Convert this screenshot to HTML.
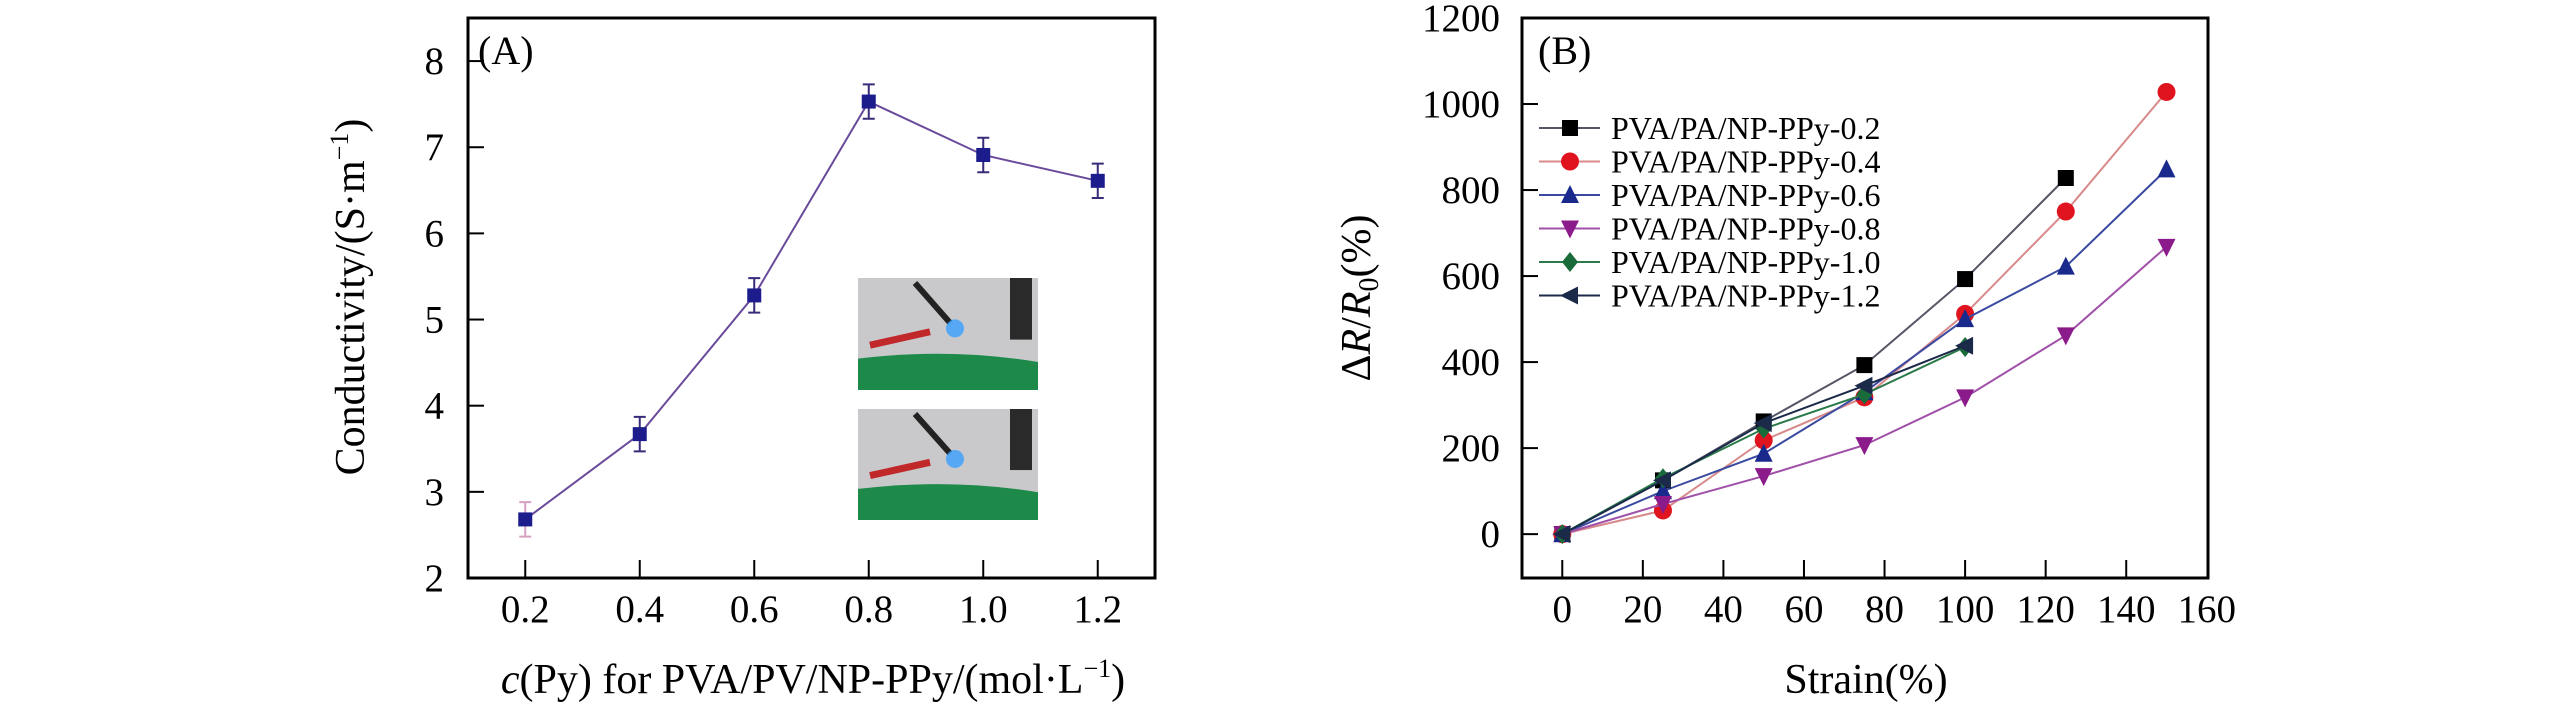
<!DOCTYPE html>
<html><head><meta charset="utf-8"><style>
html,body{margin:0;padding:0;background:#fff;}
svg{display:block;font-family:"Liberation Serif",serif;}
</style></head><body>
<svg id="root" width="2567" height="709" viewBox="0 0 2567 709" xmlns="http://www.w3.org/2000/svg">
<g id="pa"></g>
<g id="pb"></g>
</svg>
<script>
// Panel A data
const catsA = [0.2, 0.4, 0.6, 0.8, 1.0, 1.2];
const condA = [2.68, 3.67, 5.28, 7.53, 6.91, 6.61];
const errA = [0.2, 0.2, 0.2, 0.2, 0.2, 0.2];
const yTicksA = [2, 3, 4, 5, 6, 7, 8];
const xTickLabelsA = ["0.2", "0.4", "0.6", "0.8", "1.0", "1.2"];
// Panel B data
const strainB = [0, 25, 50, 75, 100, 125, 150];
const s02 = [0, 125, 262, 393, 593, 828];
const s04 = [0, 55, 218, 318, 512, 750, 1028];
const s06 = [0, 100, 187, 330, 500, 622, 848];
const s08 = [0, 70, 135, 207, 318, 462, 668];
const s10 = [0, 130, 245, 325, 435];
const s12 = [0, 125, 258, 345, 438];
const seriesNames = ["PVA/PA/NP-PPy-0.2","PVA/PA/NP-PPy-0.4","PVA/PA/NP-PPy-0.6","PVA/PA/NP-PPy-0.8","PVA/PA/NP-PPy-1.0","PVA/PA/NP-PPy-1.2"];
const xTicksB = [0, 20, 40, 60, 80, 100, 120, 140, 160];
const yTicksB = [0, 200, 400, 600, 800, 1000, 1200];

const NS = "http://www.w3.org/2000/svg";
function mk(parent, tag, attrs, txt){
  const e = document.createElementNS(NS, tag);
  for (const k in attrs) e.setAttribute(k, attrs[k]);
  if (txt !== undefined) e.textContent = txt;
  parent.appendChild(e);
  return e;
}

// ---------- Panel A ----------
const pa = document.getElementById('pa');
const AL=468, AR=1155, AT=18, AB=578;
const xA = v => AL + (v - 0.1) / 1.2 * (AR - AL);
const yA = v => AB - (v - 2) / 6.5 * (AB - AT);
let fr = mk(pa,'rect',{x:AL,y:AT,width:AR-AL,height:AB-AT,fill:'none',stroke:'#000','stroke-width':3});


yTicksA.forEach(t=>{
  const y = yA(t);
  if (t>2){ const l=mk(pa,'line',{x1:AL,x2:AL+16,y1:y,y2:y,stroke:'#000','stroke-width':2});
  
   }
  const tx = mk(pa,'text',{x:AL-24,y:y+13,'font-size':39,'text-anchor':'end'},String(t));
  
  
});
catsA.forEach((c,i)=>{
  const x = xA(c);
  const l=mk(pa,'line',{x1:x,x2:x,y1:AB,y2:AB-18,stroke:'#000','stroke-width':2});
  
  
  const tx=mk(pa,'text',{x:x,y:622,'font-size':39,'text-anchor':'middle'},xTickLabelsA[i]);
  
  
});
// inset photos
[[278,390],[409,520]].forEach((r,i)=>{
  const g = mk(pa,'g',{});
  
  
  const h=r[1]-r[0];
  mk(g,'rect',{x:858,y:r[0],width:180,height:h,fill:'#c9c9cc'});
  mk(g,'rect',{x:1010,y:r[0],width:22,height:h*0.55,fill:'#2a2a2a'});
  mk(g,'path',{d:`M858 ${r[0]+h*0.72} Q950 ${r[0]+h*0.62} 1038 ${r[0]+h*0.75} L1038 ${r[1]} L858 ${r[1]} Z`,fill:'#1e8a4a'});
  mk(g,'path',{d:`M870 ${r[0]+h*0.6} L930 ${r[0]+h*0.48}`,stroke:'#c0282a','stroke-width':7});
  mk(g,'path',{d:`M915 ${r[0]+5} L950 ${r[0]+h*0.4}`,stroke:'#222','stroke-width':6});
  mk(g,'circle',{cx:955,cy:r[0]+h*0.45,r:9,fill:'#3aa0ff',opacity:0.8});
});
// line
let d=''; catsA.forEach((c,i)=>{d+=(i?'L':'M')+xA(c)+' '+yA(condA[i]);});
const la=mk(pa,'path',{d:d,fill:'none',stroke:'#6a4a9a','stroke-width':2});


catsA.forEach((c,i)=>{
  const x=xA(c), y=yA(condA[i]);
  const eb=mk(pa,'path',{d:`M${x} ${yA(condA[i]-errA[i])}L${x} ${yA(condA[i]+errA[i])}M${x-6} ${yA(condA[i]-errA[i])}L${x+6} ${yA(condA[i]-errA[i])}M${x-6} ${yA(condA[i]+errA[i])}L${x+6} ${yA(condA[i]+errA[i])}`,stroke:i==0?'#d8a0c0':'#3a2a7a','stroke-width':2,fill:'none'});
  
  
  const m=mk(pa,'rect',{x:x-7,y:y-7,width:14,height:14,fill:'#1c1c8c'});
  
  
});
let t=mk(pa,'text',{x:478,y:64,'font-size':40},'(A)');


t=mk(pa,'text',{x:0,y:0,'font-size':42,'text-anchor':'middle',transform:'translate(364,297) rotate(-90)'});


t.innerHTML='Conductivity/(S·m<tspan font-size="26" dy="-16">−1</tspan><tspan dy="16">)</tspan>';
t=mk(pa,'text',{x:813,y:693,'font-size':42,'text-anchor':'middle'});


t.innerHTML='<tspan font-style="italic">c</tspan>(Py) for PVA/PV/NP-PPy/(mol·L<tspan font-size="26" dy="-16">−1</tspan><tspan dy="16">)</tspan>';

// ---------- Panel B ----------
const pb = document.getElementById('pb');
const BL=1522, BR=2208, BT=18, BB=578;
const xB = v => BL + (v + 10) / 170.3 * (BR - BL);
const yB = v => BB - (v + 102) / 1302 * (BB - BT);
fr=mk(pb,'rect',{x:BL,y:BT,width:BR-BL,height:BB-BT,fill:'none',stroke:'#000','stroke-width':3});


yTicksB.forEach(v=>{
  const y=yB(v);
  if (v<1200){const l=mk(pb,'line',{x1:BL,x2:BL+16,y1:y,y2:y,stroke:'#000','stroke-width':2});
  
  }
  const tx=mk(pb,'text',{x:1500,y:y+13,'font-size':39,'text-anchor':'end'},String(v));
  
  
});
xTicksB.forEach(v=>{
  const x=xB(v);
  if (v<160){const l=mk(pb,'line',{x1:x,x2:x,y1:BB,y2:BB-18,stroke:'#000','stroke-width':2});
  
  }
  const tx=mk(pb,'text',{x:x,y:622,'font-size':39,'text-anchor':'middle'},String(v));
  
  
});
const allS=[s02,s04,s06,s08,s10,s12];
const mcol=['#000','#e0141e','#1a2a8c','#8b1a8b','#1a6b3a','#1c2a4a'];
const lcol=['#556','#d88a8a','#3a4aa0','#a050a8','#2a7a4a','#1c2a4a'];
const shapes=['sq','ci','tu','td','di','tl'];
function marker(g,shape,x,y,c){
  const s=8;
  if(shape==='sq') return mk(g,'rect',{x:x-s,y:y-s,width:2*s,height:2*s,fill:c});
  if(shape==='ci') return mk(g,'circle',{cx:x,cy:y,r:s+1,fill:c});
  if(shape==='tu') return mk(g,'path',{d:`M${x} ${y-s-2}L${x+s+1} ${y+s}L${x-s-1} ${y+s}Z`,fill:c});
  if(shape==='td') return mk(g,'path',{d:`M${x} ${y+s+2}L${x+s+1} ${y-s}L${x-s-1} ${y-s}Z`,fill:c});
  if(shape==='di') return mk(g,'path',{d:`M${x} ${y-s-2}L${x+s} ${y}L${x} ${y+s+2}L${x-s} ${y}Z`,fill:c});
  return mk(g,'path',{d:`M${x-s-2} ${y}L${x+s} ${y-s-1}L${x+s} ${y+s+1}Z`,fill:c});
}
allS.forEach((arr,si)=>{
  const g=mk(pb,'g',{});
  
  
  let dd=''; arr.forEach((v,i)=>{dd+=(i?'L':'M')+xB(strainB[i])+' '+yB(v);});
  const ln=mk(g,'path',{d:dd,fill:'none',stroke:lcol[si],'stroke-width':2});
  
  
  arr.forEach((v,i)=>{
    const m=marker(g,shapes[si],xB(strainB[i]),yB(v),mcol[si]);
    
    
  });
});
// legend
const lg=mk(pb,'g',{});


seriesNames.forEach((n,i)=>{
  const y=128+i*33.5;
  const e=mk(lg,'g',{});
  
  
  mk(e,'line',{x1:1539,x2:1600,y1:y,y2:y,stroke:lcol[i],'stroke-width':2});
  marker(e,shapes[i],1570,y,mcol[i]);
  mk(e,'text',{x:1611,y:y+11,'font-size':32},n);
});
t=mk(pb,'text',{x:1538,y:64,'font-size':40},'(B)');


t=mk(pb,'text',{x:0,y:0,'font-size':42,'text-anchor':'middle',transform:'translate(1370,298) rotate(-90)'});


t.innerHTML='Δ<tspan font-style="italic">R</tspan>/<tspan font-style="italic">R</tspan><tspan font-size="28" dy="8">0</tspan><tspan dy="-8">(%)</tspan>';
t=mk(pb,'text',{x:1866,y:693,'font-size':42,'text-anchor':'middle'},'Strain(%)');


</script>
</body></html>
